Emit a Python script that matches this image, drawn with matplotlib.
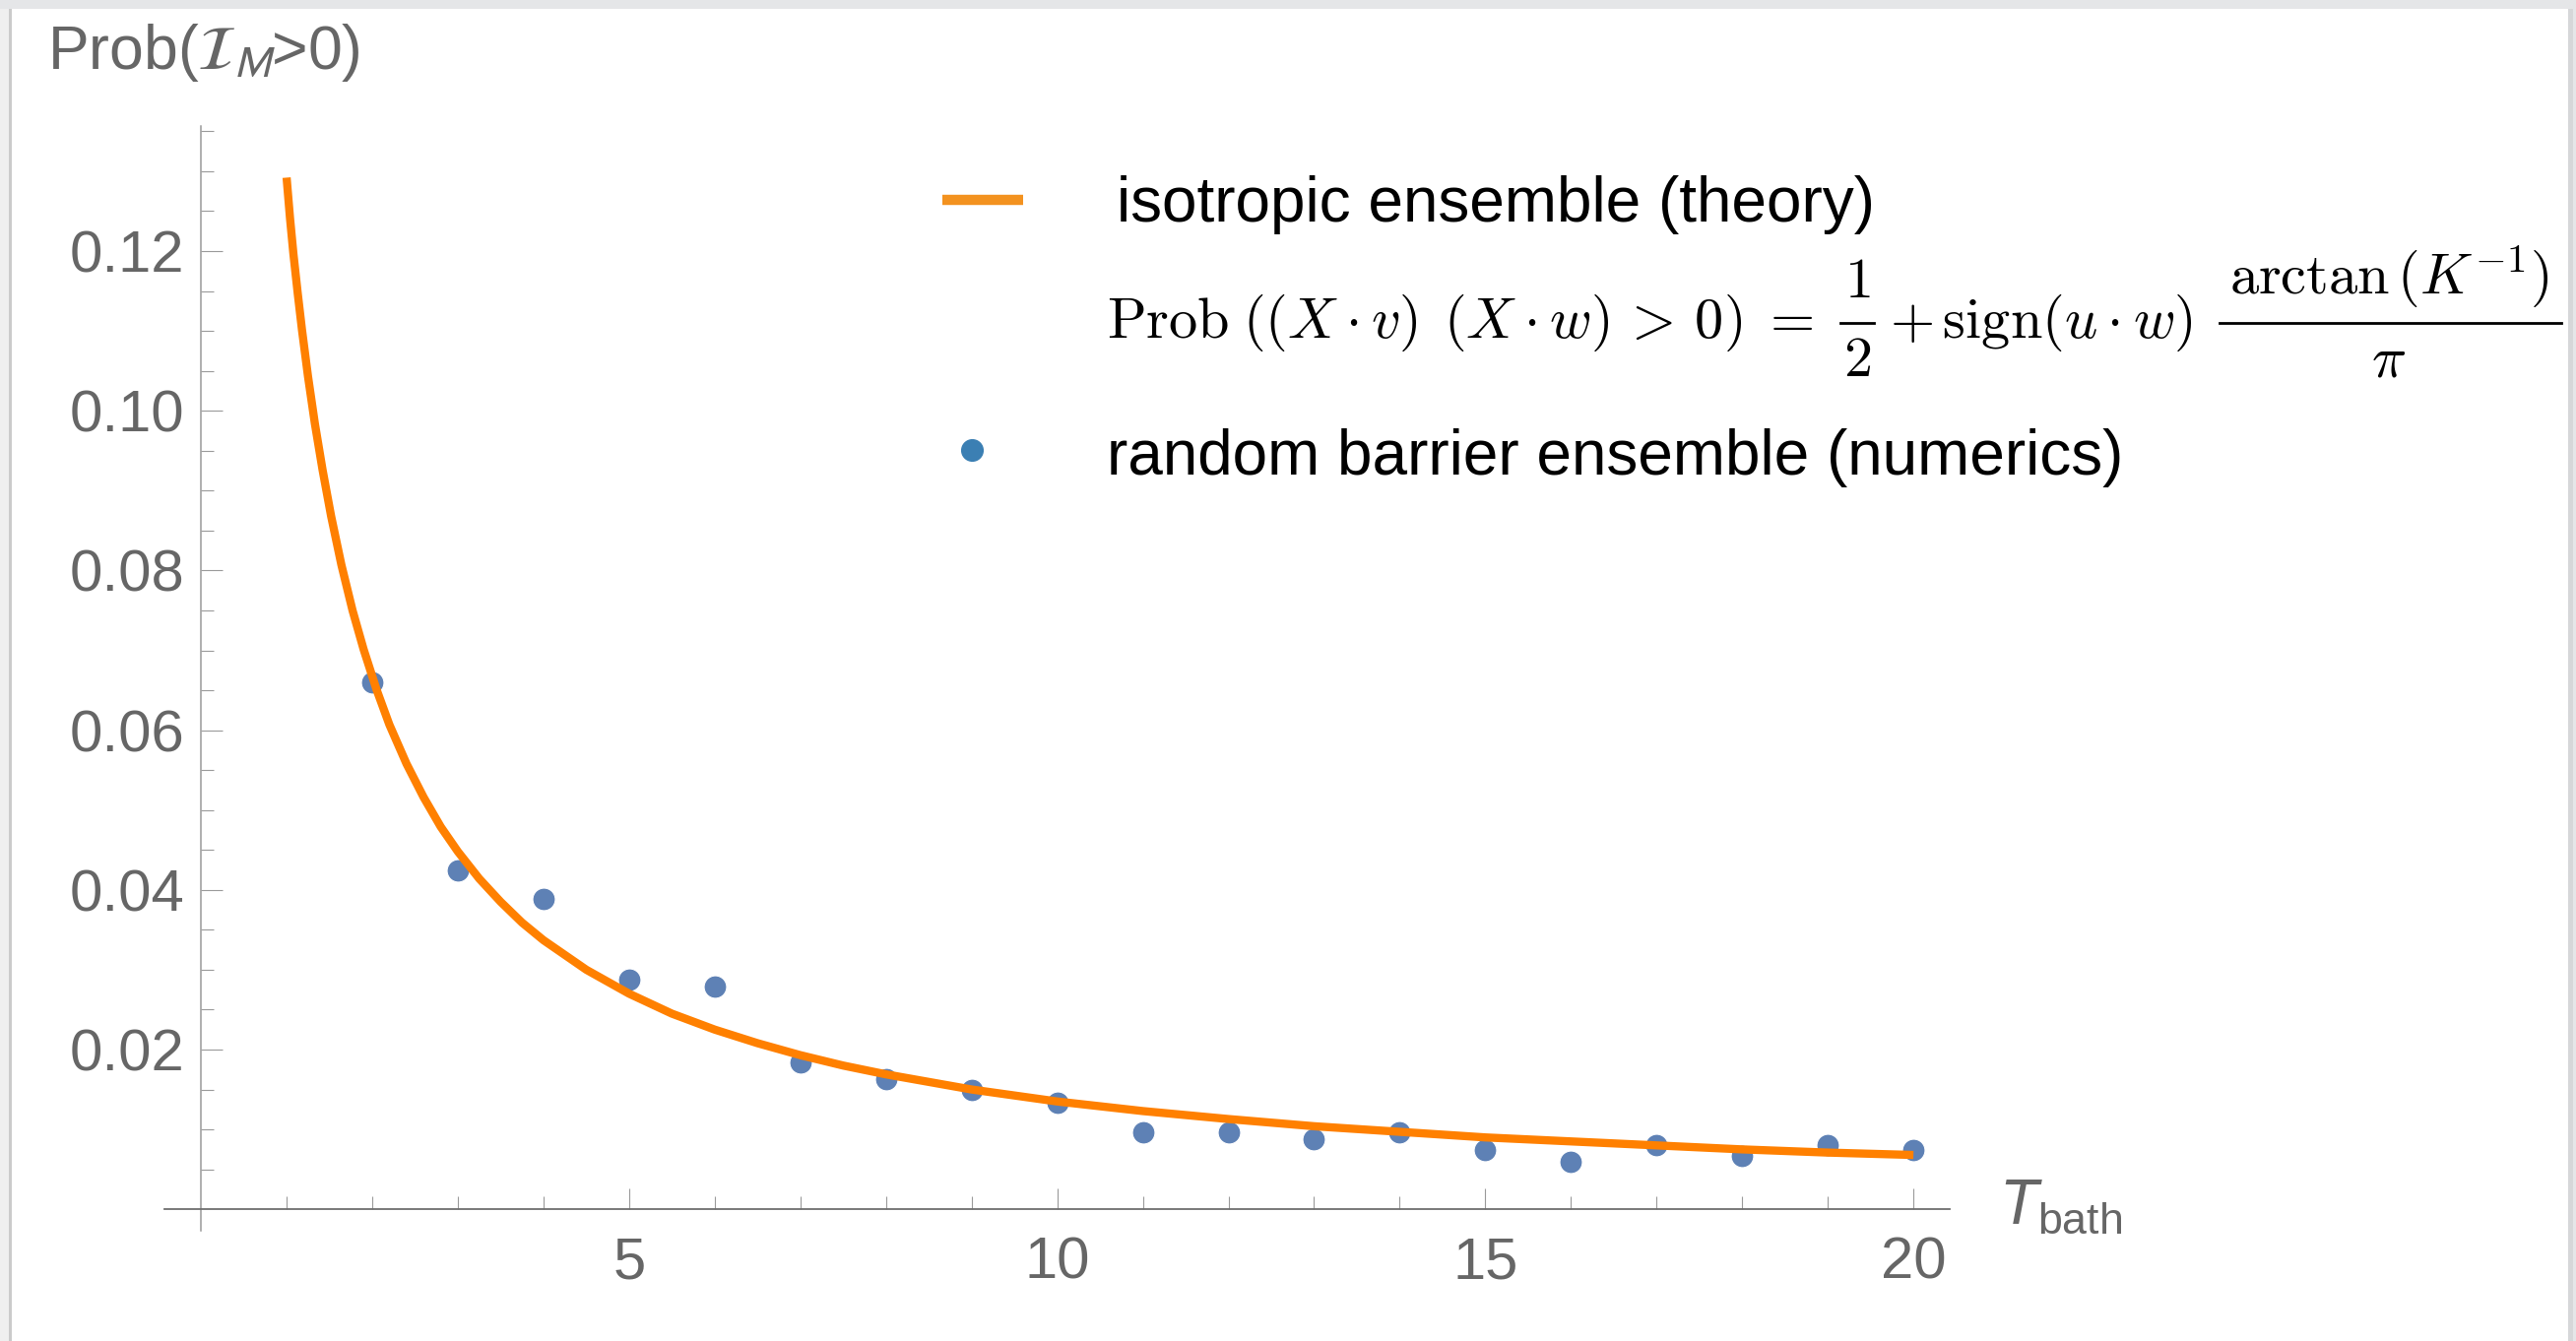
import numpy as np
import matplotlib.pyplot as plt
from matplotlib.lines import Line2D
from matplotlib.patches import Rectangle

plt.rcParams['font.family'] = ['Liberation Sans', 'DejaVu Sans']
plt.rcParams['mathtext.fontset'] = 'custom'
plt.rcParams['mathtext.rm'] = 'Liberation Sans'
plt.rcParams['mathtext.it'] = 'Liberation Sans:italic'
plt.rcParams['mathtext.bf'] = 'Liberation Sans:bold'

# random barrier ensemble (numerics)
T_num = [2, 3, 4, 5, 6, 7, 8, 9, 10, 11, 12, 13, 14, 15, 16, 17, 18, 19, 20]
P_num = [0.0660, 0.0425, 0.0389, 0.0287, 0.0279, 0.0184, 0.0163, 0.0149, 0.0134,
         0.0096, 0.0096, 0.0088, 0.0096, 0.0074, 0.0059, 0.0081, 0.0067, 0.0081, 0.0074]

# isotropic ensemble (theory) curve
T_th = [1.00, 1.04, 1.08, 1.13, 1.18, 1.25, 1.33, 1.42, 1.52, 1.64, 1.77, 1.90, 2.05,
        2.20, 2.40, 2.60, 2.80, 3.00, 3.25, 3.50, 3.75, 4.00, 4.50, 5.00, 5.50, 6.00,
        6.50, 7.00, 7.50, 8.00, 9.00, 10.0, 11.0, 12.0, 13.0, 14.0, 15.0, 16.0, 17.0,
        18.0, 19.0, 20.0]
P_th = [0.1292, 0.1241, 0.1196, 0.1147, 0.1101, 0.1043, 0.0984, 0.0926, 0.0868, 0.0807,
        0.0750, 0.0701, 0.0651, 0.0607, 0.0558, 0.0516, 0.0479, 0.0448, 0.0414, 0.0385,
        0.0359, 0.0337, 0.0300, 0.0270, 0.0245, 0.0225, 0.0208, 0.0193, 0.0180, 0.0169,
        0.0150, 0.0135, 0.0123, 0.0113, 0.0104, 0.0097, 0.0090, 0.0085, 0.0080, 0.0075,
        0.0071, 0.0068]

xticks_major = [5, 10, 15, 20]
yticks_major = [0.02, 0.04, 0.06, 0.08, 0.10, 0.12]
ytick_labels = ['0.02', '0.04', '0.06', '0.08', '0.10', '0.12']

W, H = 2616, 1362
fig = plt.figure(figsize=(W / 100, H / 100), dpi=100, facecolor='#e5e6e8')

def fx(px):
    return px / W

def fy(py):
    return 1 - py / H

# notebook panel + shadows
fig.add_artist(Rectangle((0, 0), fx(12), fy(9), facecolor='#efefef', edgecolor='none', zorder=-12))
fig.add_artist(Rectangle((fx(9), 0), fx(3), fy(9), facecolor='#cbcbcb', edgecolor='none', zorder=-11))
fig.add_artist(Rectangle((fx(2608), 0), fx(5), fy(9), facecolor='#d6d7d9', edgecolor='none', zorder=-11))
fig.add_artist(Rectangle((fx(12), 0), fx(2608) - fx(12), fy(9), facecolor='white', edgecolor='none', zorder=-10))

ax = fig.add_axes([fx(166.8), fy(1249.7), (1980 - 166.8) / W, (1249.7 - 128) / H])
ax.patch.set_visible(False)

ax.plot(T_num, P_num, 'o', ms=16.5, color='#5e81b5', mec='white', mew=0.8, zorder=2, clip_on=False)
ax.plot(T_th, P_th, color='#ff8000', lw=6, solid_capstyle='butt', solid_joinstyle='round', zorder=3)

ax.set_xlim(-0.429, 20.424)
ax.set_ylim(-0.00265, 0.13566)

for s in ['top', 'right']:
    ax.spines[s].set_visible(False)
ax.spines['left'].set_position(('data', 0))
ax.spines['bottom'].set_position(('data', 0))
ax.spines['left'].set_color('#9a9a9a')
ax.spines['bottom'].set_color('#6e6e6e')
ax.spines['left'].set_linewidth(1.1)
ax.spines['bottom'].set_linewidth(1.3)

ax.set_xticks(xticks_major)
ax.set_xticks([t for t in range(1, 20) if t % 5], minor=True)
ax.set_yticks(yticks_major)
ax.set_yticklabels(ytick_labels)
ax.set_yticks([k * 0.005 for k in range(1, 28) if k % 4], minor=True)

ax.tick_params(axis='x', which='major', direction='in', length=15, width=0.8, color='#9a9a9a',
               labelsize=43, labelcolor='#666666', pad=20)
ax.tick_params(axis='x', which='minor', direction='in', length=9.4, width=0.8, color='#9a9a9a')
ax.tick_params(axis='y', which='major', direction='in', length=15.8, width=0.8, color='#9a9a9a',
               labelsize=43, labelcolor='#666666', pad=12)
ax.tick_params(axis='y', which='minor', direction='in', length=9.4, width=0.8, color='#9a9a9a')

# axis labels
fig.text(fx(48), fy(70), r'Prob($\mathcal{I}_M$>0)', fontsize=45, color='#666666',
         math_fontfamily='stixsans', va='baseline', ha='left')
fig.text(fx(2030), fy(1243), r'$T_{\mathrm{bath}}$', fontsize=46, color='#666666',
         va='baseline', ha='left')

# legend
fig.add_artist(Line2D([fx(957), fx(1039)], [fy(202.5), fy(202.5)], color='#f3921f', lw=7.5,
                      solid_capstyle='butt'))
fig.add_artist(Line2D([fx(987)], [fy(457.3)], marker='o', ms=15.6, color='#3b7fb3', ls='none'))
fig.text(fx(1134), fy(225), 'isotropic ensemble (theory)', fontsize=46, color='black',
         va='baseline', ha='left')
fig.text(fx(1124), fy(481.7), 'random barrier ensemble (numerics)', fontsize=46, color='black',
         va='baseline', ha='left')

# theory formula, assembled from pieces so the fractions stay full size
fs = 42
kw = dict(fontsize=fs, color='black', math_fontfamily='cm', va='baseline')
fig.text(fx(1124), fy(342.7), r'$\mathrm{Prob}\;((X\cdot v)\;\,(X\cdot w)\,>\,0)\;=$', ha='left', **kw)
fig.text(fx(1886), fy(302.5), r'$1$', ha='center', **kw)
fig.text(fx(1886), fy(382.5), r'$2$', ha='center', **kw)
fig.add_artist(Line2D([fx(1869), fx(1903)], [fy(328), fy(328)], color='black', lw=2))
fig.text(fx(1919), fy(342.7), r'$+\,\mathrm{sign}(u\cdot w)$', ha='left', **kw)
fig.text(fx(2426), fy(298), r'$\mathrm{arctan}\,(K^{-1})$', ha='center', **kw)
fig.text(fx(2426), fy(382.5), r'$\pi$', ha='center', **kw)
fig.add_artist(Line2D([fx(2254), fx(2601)], [fy(328), fy(328)], color='black', lw=2))

plt.savefig('out.png', dpi=100, facecolor=fig.get_facecolor())
